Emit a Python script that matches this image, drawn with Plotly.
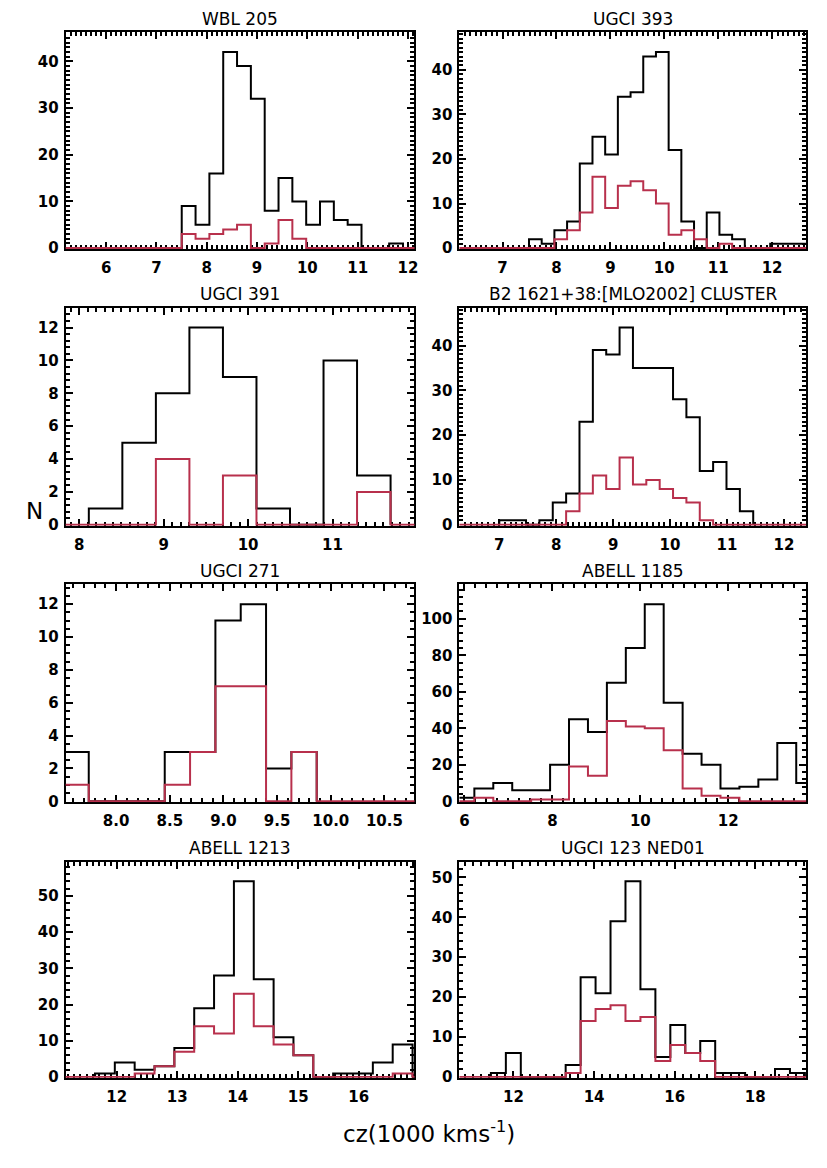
import math
import plotly.graph_objects as go

# ---------------- data (velocities in 1000 km/s, counts N) ----------------
names = ["WBL 205", "UGCI 393", "UGCI 391", "B2 1621+38:[MLO2002] CLUSTER",
         "UGCI 271", "ABELL 1185", "ABELL 1213", "UGCI 123 NED01"]

# left edge of first bin and bin width for each cluster
bin_start = [7.503, 7.49, 8.114, 7.0, 7.509, 5.795, 11.64, 11.44]
bin_width = [0.2749, 0.2355, 0.397, 0.2348, 0.236, 0.4306, 0.328, 0.371]

# all galaxies (black) and selected subsample (red)
wbl205_all = [9, 5, 16, 42, 39, 32, 8, 15, 10, 5, 10, 6, 5, 0, 0, 1]
wbl205_sel = [3, 2, 3, 4, 5, 0, 1, 6, 2]

ugci393_all = [2, 1, 4, 6, 19, 25, 21, 34, 35, 43, 44, 22, 6, 0, 8, 3, 2, 0, 0, 1, 1, 1, 1]
ugci393_sel = [0, 0, 2, 4, 8, 16, 9, 14, 15, 13, 10, 3, 4, 2, 0, 1]

ugci391_all = [1, 5, 8, 12, 9, 1, 0, 10, 3]
ugci391_sel = [0, 0, 4, 0, 3, 0, 0, 0, 2]

b2_1621_all = [1, 1, 0, 1, 5, 7, 23, 39, 38, 44, 35, 35, 35, 28, 24, 12, 14, 8, 3]
b2_1621_sel = [0, 0, 0, 0, 0, 3, 7, 11, 8, 15, 9, 10, 8, 6, 5, 1]

ugci271_all = [3, 0, 0, 0, 3, 3, 11, 12, 2, 3]
ugci271_sel = [1, 0, 0, 0, 1, 3, 7, 7, 0, 3]

abell1185_all = [2, 7, 10, 6, 6, 20, 45, 38, 65, 84, 108, 54, 26, 20, 7, 8, 12, 32, 10]
abell1185_sel = [0, 2, 0, 0, 1, 1, 19, 14, 44, 41, 40, 28, 7, 3, 2, 0]

abell1213_all = [1, 4, 2, 3, 8, 19, 28, 54, 27, 11, 6, 0, 1, 1, 4, 9]
abell1213_sel = [0, 0, 1, 3, 7, 14, 12, 23, 14, 9, 6, 0, 0, 0, 0, 1]

ugci123_all = [1, 6, 0, 0, 0, 3, 25, 21, 39, 49, 22, 5, 13, 6, 9, 1, 1, 0, 0, 2, 1]
ugci123_sel = [0, 0, 0, 0, 0, 1, 14, 17, 18, 14, 15, 4, 8, 6, 4]

counts_all = [wbl205_all, ugci393_all, ugci391_all, b2_1621_all,
              ugci271_all, abell1185_all, abell1213_all, ugci123_all]
counts_sel = [wbl205_sel, ugci393_sel, ugci391_sel, b2_1621_sel,
              ugci271_sel, abell1185_sel, abell1213_sel, ugci123_sel]

# axis ranges / ticks (x in 1000 km/s)
x_ranges = [(5.196, 12.13), (6.20, 12.63), (7.84, 11.97), (6.30, 12.39),
            (7.53, 10.78), (5.887, 13.77), (11.156, 16.92), (10.66, 19.26)]
x_dtick = [1, 1, 1, 1, 0.5, 2, 1, 2]
x_minor = [0.1, 0.1, 0.1, 0.1, 0.1, 0.25, 0.1, 0.2]
y_dtick = [10, 10, 2, 10, 2, 20, 10, 10]
y_minor = [1, 1, 0.4, 1, 0.5, 4, 2, 2]

BLACK = "#000000"
RED = "#b8304c"

# ---------------- layout geometry (pixels) ----------------
W, H = 827, 1168
cols_px = [(66, 416.5), (461.7, 810)]
rows_px = [(32.7, 250.7), (310, 529.3), (588.5, 807.7), (867.7, 1085.3)]


def step_xy(start, width, counts, lo=None, hi=None):
    c = list(counts)
    s = start
    if lo is not None:
        nb = max(0, math.ceil((start - lo) / width) + 1)
        c = [0] * nb + c
        s = start - nb * width
    if hi is not None:
        end = s + len(c) * width
        na = max(0, math.ceil((hi - end) / width) + 1)
        c = c + [0] * na
    edges = [s + i * width for i in range(len(c) + 1)]
    xs = [edges[0]] + edges[:-1] + [edges[-1], edges[-1]]
    ys = [0] + c + [c[-1], 0]
    return xs, ys


fig = go.Figure()
annotations = []
for i in range(8):
    r, cidx = divmod(i, 2)
    ax = "" if i == 0 else str(i + 1)
    xref, yref = "x" + ax, "y" + ax
    lo, hi = x_ranges[i]
    xa, ya = step_xy(bin_start[i], bin_width[i], counts_all[i])
    xs, ys = step_xy(bin_start[i], bin_width[i], counts_sel[i], lo, hi)
    fig.add_trace(go.Scatter(x=xa, y=ya, mode="lines", line=dict(color=BLACK, width=2, shape="hv"),
                             xaxis=xref, yaxis=yref, showlegend=False, hoverinfo="skip"))
    fig.add_trace(go.Scatter(x=xs, y=ys, mode="lines", line=dict(color=RED, width=2, shape="hv"),
                             xaxis=xref, yaxis=yref, showlegend=False, hoverinfo="skip"))
    ymax = 1.1 * max(counts_all[i])
    x0, x1 = cols_px[cidx]
    t, b = rows_px[r]
    common = dict(showline=True, linecolor="black", linewidth=2, mirror="allticks",
                  ticks="inside", ticklen=7, tickwidth=2, tickcolor="black",
                  showgrid=False, zeroline=False, layer="below traces",
                  tickfont=dict(family="DejaVu Sans", size=15, color="black", weight="bold"))
    xaxis = dict(common, domain=[x0 / W, x1 / W], range=[lo, hi], dtick=x_dtick[i], tick0=0,
                 anchor=yref, ticklabelstandoff=4,
                 minor=dict(dtick=x_minor[i], tick0=0, ticks="inside", ticklen=4, tickwidth=1.5,
                            tickcolor="black", showgrid=False))
    if x_dtick[i] == 0.5:
        xaxis["tickformat"] = ".1f"
    yaxis = dict(common, domain=[1 - b / H, 1 - t / H], range=[-ymax * 0.004, ymax],
                 dtick=y_dtick[i], tick0=0, anchor=xref, ticklabelstandoff=2,
                 minor=dict(dtick=y_minor[i], tick0=0, ticks="inside", ticklen=4, tickwidth=1.5,
                            tickcolor="black", showgrid=False))
    fig.update_layout(**{"xaxis" + ax: xaxis, "yaxis" + ax: yaxis})
    annotations.append(dict(text=names[i], x=(x0 + x1) / 2 / W, y=1 - (t - 14) / H,
                            xref="paper", yref="paper", xanchor="center", yanchor="middle",
                            showarrow=False, font=dict(family="DejaVu Sans", size=17, color="black")))

annotations.append(dict(text="N", x=35 / W, y=1 - 515 / H, xref="paper", yref="paper",
                        xanchor="center", yanchor="middle", showarrow=False,
                        font=dict(family="DejaVu Sans", size=23, color="black")))
annotations.append(dict(text="cz(1000 kms<sup>-1</sup>)", x=431 / W, y=1 - 1140 / H,
                        xref="paper", yref="paper", xanchor="center", yanchor="middle",
                        showarrow=False, font=dict(family="DejaVu Sans", size=23, color="black")))

fig.update_layout(width=W, height=H, margin=dict(l=0, r=0, t=0, b=0),
                  paper_bgcolor="white", plot_bgcolor="white", annotations=annotations)
fig.write_html("out.html", config={"displayModeBar": False},
               post_script="document.body.style.margin='0';document.body.style.padding='0';")
